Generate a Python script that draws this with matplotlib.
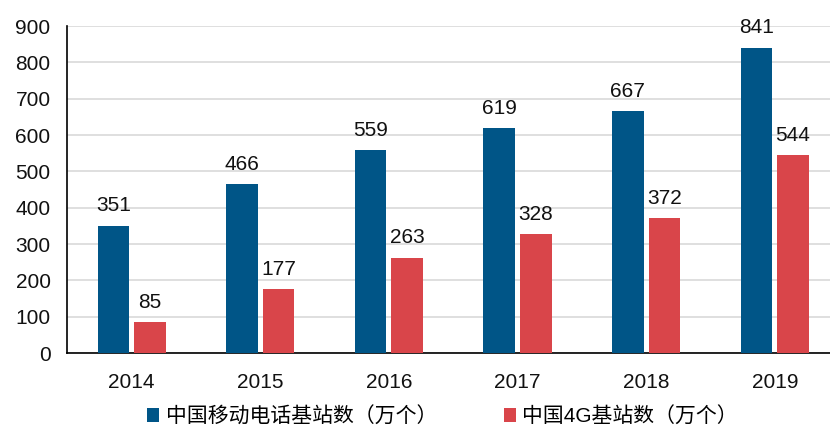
import numpy as np
import matplotlib
matplotlib.use("Agg")
import matplotlib.pyplot as plt

plt.rcParams['font.family'] = ['Liberation Sans', 'Noto Sans CJK SC', 'DejaVu Sans']

years = ["2014", "2015", "2016", "2017", "2018", "2019"]
mobile_stations = [351, 466, 559, 619, 667, 841]
stations_4g = [85, 177, 263, 328, 372, 544]
labels = ["中国移动电话基站数（万个）", "中国4G基站数（万个）"]

blue = "#005587"
red = "#D9454A"

fig = plt.figure(figsize=(8.3, 4.28), dpi=100)
ax = fig.add_axes([0.081, 0.175, 0.93, 0.764])

x = np.arange(len(years))
w = 0.245
off = 0.142
b1 = ax.bar(x - off, mobile_stations, w, color=blue, label=labels[0], zorder=3)
b2 = ax.bar(x + off, stations_4g, w, color=red, label=labels[1], zorder=3)

for bars, vals in ((b1, mobile_stations), (b2, stations_4g)):
    for rect, v in zip(bars, vals):
        ax.text(rect.get_x() + rect.get_width() / 2, v + 28, str(v),
                ha="center", va="bottom", fontsize=15, color="#111111")

ax.set_xlim(-0.5, len(years) - 0.5)
ax.set_ylim(0, 900)
ax.set_yticks(range(0, 901, 100))
ax.set_xticks(x)
ax.set_xticklabels(years)
ax.tick_params(axis="both", length=0, labelsize=15, colors="#111111")
ax.tick_params(axis="x", pad=14)
ax.tick_params(axis="y", pad=12)

ax.grid(axis="y", color="#d9d9d9", linewidth=1.2, zorder=0)
ax.spines["top"].set_visible(False)
ax.spines["right"].set_visible(False)
ax.spines["left"].set_color("black")
ax.spines["bottom"].set_color("black")
ax.spines["left"].set_linewidth(1.2)
ax.spines["bottom"].set_linewidth(1.2)

fig.legend(loc="lower center", bbox_to_anchor=(0.533, -0.04), ncol=2, frameon=False,
           fontsize=15, handlelength=0.6, handleheight=0.6, handletextpad=0.3,
           columnspacing=3.2)

fig.savefig("out.png", dpi=100)
